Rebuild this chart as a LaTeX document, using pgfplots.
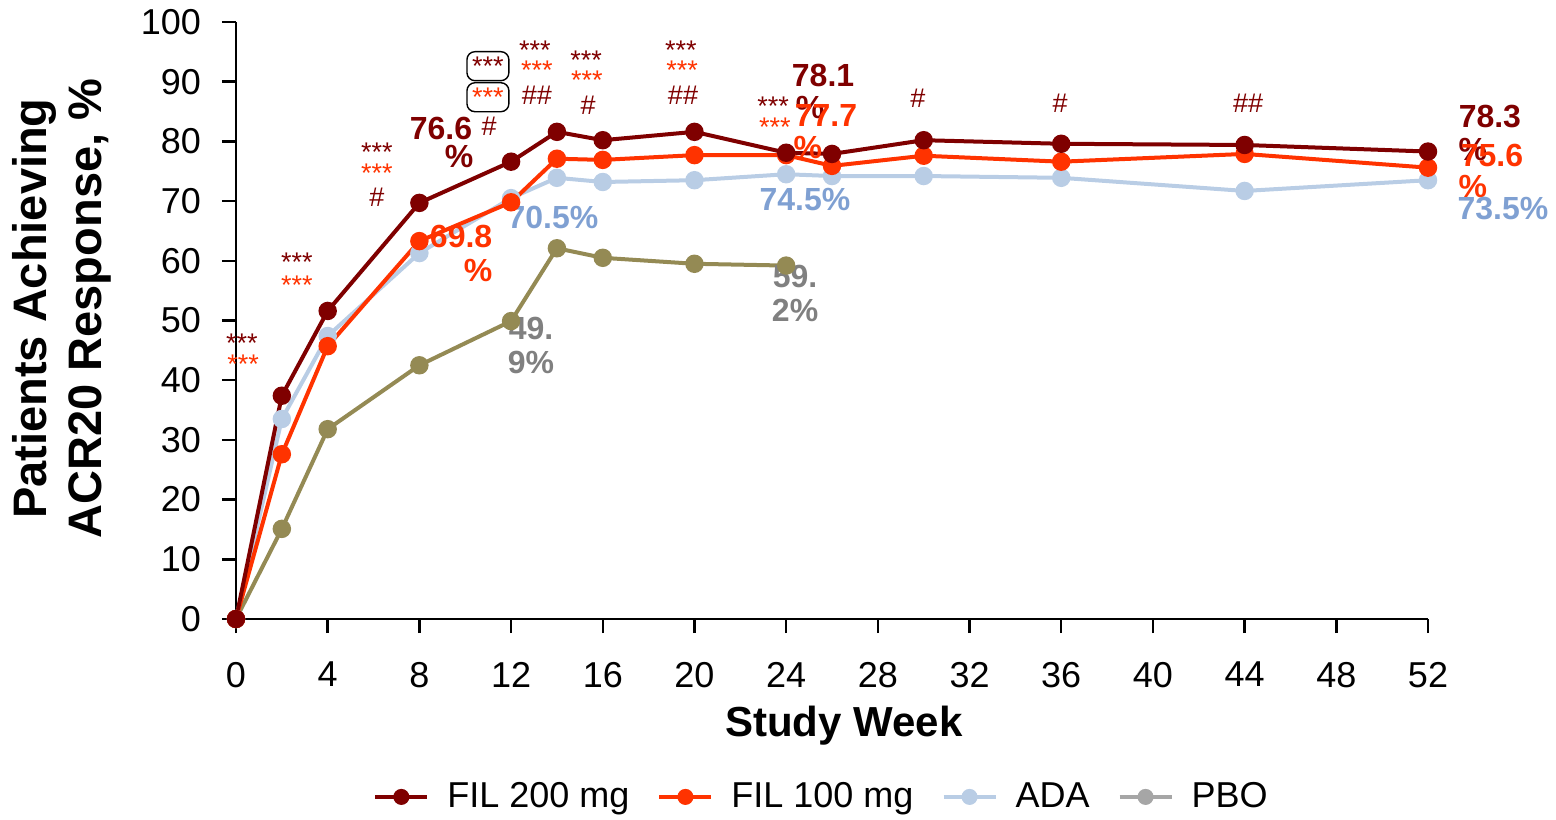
\documentclass[border=0pt]{standalone}
\usepackage{pgfplots}
\pgfplotsset{compat=1.18}
\usepackage{fontspec}
\setmainfont{Liberation Sans}

\definecolor{fila}{HTML}{7F0000}
\definecolor{filb}{HTML}{FF3300}
\definecolor{ada}{HTML}{B9CDE5}
\definecolor{adalab}{HTML}{7FA0D2}
\definecolor{pbo}{HTML}{948A54}
\definecolor{pbolab}{HTML}{808080}
\definecolor{pboleg}{HTML}{A6A6A6}

\begin{document}
\begin{tikzpicture}
\path[use as bounding box] (-118pt,-100pt) rectangle (660pt,309.5pt);
\begin{axis}[
  scale only axis,
  width=596pt, height=298.5pt,
  xmin=0, xmax=52, ymin=0, ymax=100,
  axis x line*=bottom, axis y line*=left,
  axis line style={line width=1.2pt, -},
  xtick={0,4,...,52}, ytick={0,10,...,100},
  tick align=outside, major tick length=7pt,
  tick style={line width=1.2pt, black},
  /pgf/number format/assume math mode=true,
  ticklabel style={font=\fontsize{18}{21}\selectfont},
  yticklabel style={xshift=-7pt},
  xticklabel style={yshift=-11pt},
  xlabel={Study Week},
  xlabel style={at={(axis description cs:0.51,-0.178)}, anchor=center,
    font=\fontsize{21}{24}\selectfont\bfseries},
  ylabel={Patients Achieving\\ACR20 Response, \%},
  ylabel style={at={(axis description cs:-0.146,0.52)}, anchor=center,
    align=center, font=\fontsize{23.5}{27.5}\selectfont\bfseries},
  clip=false,
  every axis plot/.append style={line width=2pt, mark=*, mark size=3.6pt},
  legend columns=4,
  legend style={draw=none, fill=none, at={(axis description cs:0.492,-0.298)},
    anchor=center, font=\fontsize{18}{21}\selectfont,
    /tikz/every odd column/.append style={column sep=7pt},
    /tikz/every even column/.append style={column sep=12pt}},
  legend image code/.code={
    \draw[#1, mark repeat=2, mark phase=2, mark size=3pt]
      plot coordinates {(0pt,0pt) (13pt,0pt) (26pt,0pt)};},
]
\addlegendimage{color=fila, line width=2pt, mark=*, mark options={fill=fila}}
\addlegendentry{FIL 200 mg}
\addlegendimage{color=filb, line width=2pt, mark=*, mark options={fill=filb}}
\addlegendentry{FIL 100 mg}
\addlegendimage{color=ada, line width=2pt, mark=*, mark options={fill=ada}}
\addlegendentry{ADA}
\addlegendimage{color=pboleg, line width=2pt, mark=*, mark options={fill=pboleg}}
\addlegendentry{PBO}

% placebo
\addplot[color=pbo, mark options={fill=pbo}, forget plot] coordinates {
  (0,0) (2,15.1) (4,31.8) (8,42.5) (12,49.9) (14,62.1) (16,60.5) (20,59.5) (24,59.2)};
% adalimumab
\addplot[color=ada, mark options={fill=ada}, forget plot] coordinates {
  (0,0) (2,33.5) (4,47.4) (8,61.3) (12,70.5) (14,73.9) (16,73.2) (20,73.5)
  (24,74.5) (26,74.2) (30,74.2) (36,73.9) (44,71.7) (52,73.5)};
% filgotinib 100 mg
\addplot[color=filb, mark options={fill=filb}, forget plot] coordinates {
  (0,0) (2,27.6) (4,45.7) (8,63.3) (12,69.8) (14,77.1) (16,76.9) (20,77.7)
  (24,77.7) (26,75.9) (30,77.6) (36,76.6) (44,77.9) (52,75.6)};
% filgotinib 200 mg
\addplot[color=fila, mark options={fill=fila}, forget plot] coordinates {
  (0,0) (2,37.4) (4,51.6) (8,69.7) (12,76.6) (14,81.6) (16,80.2) (20,81.6)
  (24,78.1) (26,77.9) (30,80.2) (36,79.6) (44,79.4) (52,78.3)};

% significance markers
\begin{scope}[every node/.style={font=\fontsize{13.5}{15}\selectfont, inner sep=1pt}]
  \node[fila] at (axis cs:0.26,46.2) {***};
  \node[filb] at (axis cs:0.31,42.7) {***};
  \node[fila] at (axis cs:2.66,59.8) {***};
  \node[filb] at (axis cs:2.66,55.9) {***};
  \node[fila] at (axis cs:6.15,78.2) {***};
  \node[filb] at (axis cs:6.15,74.7) {***};
  \node[fila] at (axis cs:6.15,70.7) {\#};
  \node[fila, draw=black, rounded corners=4pt, inner sep=2.6pt, line width=0.7pt] at (axis cs:10.99,92.6) {***};
  \node[filb, draw=black, rounded corners=4pt, inner sep=2.6pt, line width=0.7pt] at (axis cs:10.99,87.4) {***};
  \node[fila] at (axis cs:11.04,82.6) {\#};
  \node[fila] at (axis cs:13.04,95.3) {***};
  \node[filb] at (axis cs:13.13,92.0) {***};
  \node[fila] at (axis cs:13.13,87.8) {\#\#};
  \node[fila] at (axis cs:15.27,93.6) {***};
  \node[filb] at (axis cs:15.31,90.3) {***};
  \node[fila] at (axis cs:15.36,86.1) {\#};
  \node[fila] at (axis cs:19.41,95.3) {***};
  \node[filb] at (axis cs:19.46,92.0) {***};
  \node[fila] at (axis cs:19.5,87.8) {\#\#};
  \node[fila] at (axis cs:23.43,85.9) {***};
  \node[filb] at (axis cs:23.51,82.4) {***};
  \node[fila] at (axis cs:29.75,87.3) {\#};
  \node[fila] at (axis cs:35.95,86.4) {\#};
  \node[fila] at (axis cs:44.15,86.4) {\#\#};
\end{scope}

% value labels
\begin{scope}[every node/.style={font=\fontsize{16}{18}\selectfont\bfseries, inner sep=0pt}]
  \node[fila] at (axis cs:8.94,82.2) {76.6};
  \node[fila] at (axis cs:9.73,77.4) {\%};
  \node[filb] at (axis cs:9.82,64.0) {69.8};
  \node[filb] at (axis cs:10.56,58.3) {\%};
  \node[adalab] at (axis cs:13.83,67.2) {70.5\%};
  \node[pbolab] at (axis cs:12.87,48.7) {49.};
  \node[pbolab] at (axis cs:12.87,43.0) {9\%};
  \node[fila] at (axis cs:25.61,91.1) {78.1};
  \node[fila] at (axis cs:25.04,85.6) {\%};
  \node[filb] at (axis cs:25.74,84.4) {77.7};
  \node[filb] at (axis cs:24.95,78.9) {\%};
  \node[adalab] at (axis cs:24.82,70.2) {74.5\%};
  \node[pbolab] at (axis cs:24.39,57.3) {59.};
  \node[pbolab] at (axis cs:24.39,51.6) {2\%};
  \node[fila] at (axis cs:54.7,84.1) {78.3};
  \node[fila] at (axis cs:53.96,78.6) {\%};
  \node[filb] at (axis cs:54.79,77.7) {75.6};
  \node[filb] at (axis cs:53.96,72.4) {\%};
  \node[adalab] at (axis cs:55.27,68.7) {73.5\%};
\end{scope}
\end{axis}
\end{tikzpicture}
\end{document}
